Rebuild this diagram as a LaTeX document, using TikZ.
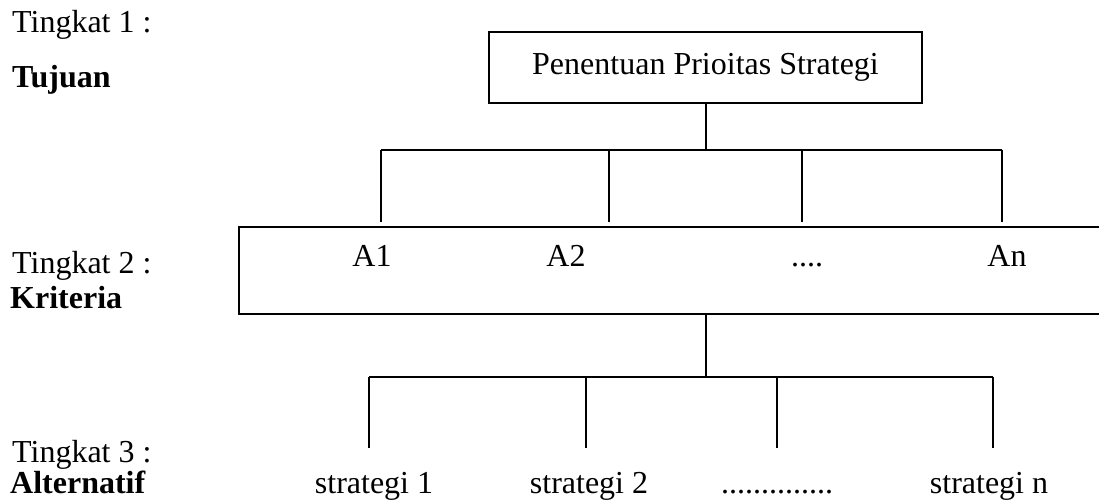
\documentclass[tikz,border=0pt]{standalone}
\usepackage{fontspec}
\setmainfont{Liberation Serif}
\usetikzlibrary{positioning,calc}

\begin{document}
\begin{tikzpicture}[
      x=1pt, y=-1pt,
      font=\fontsize{32}{38}\selectfont,
      box/.style={draw, line width=2pt, inner sep=0pt},
      lvl/.style={anchor=base west, inner sep=0pt},
      lvlb/.style={lvl, font=\fontsize{32}{38}\selectfont\bfseries},
      lbl/.style={anchor=base, inner sep=0pt},
      conn/.style={line width=2pt}
    ]
    \useasboundingbox (0,0) rectangle (1099,500);

    % Level labels
    \node[lvl]  (lv1)  at (12,33)  {Tingkat 1 :};
    \node[lvlb] (lv1b) at (12,88)  {Tujuan};
    \node[lvl]  (lv2)  at (12,273) {Tingkat 2 :};
    \node[lvlb] (lv2b) at (10,308) {Kriteria};
    \node[lvl]  (lv3)  at (12,462) {Tingkat 3 :};
    \node[lvlb] (lv3b) at (10,493) {Alternatif};

    % Goal
    \node[box, minimum width=433pt, minimum height=71pt]
      (goal) at (705.5,67.5) {Penentuan Prioitas Strategi};

    % Criteria
    \node[box, minimum width=865pt, minimum height=87pt]
      (crit) at (671.5,270.5) {};
    \node[lbl] (a1) at (372,266) {A1};
    \node[lbl] (a2) at (566,266) {A2};
    \node[lbl] (adots) at (807,266) {....};
    \node[lbl] (an) at (1007,266) {An};

    % Alternatives
    \node[lbl] (s1) at (374,493) {strategi 1};
    \node[lbl] (s2) at (589,493) {strategi 2};
    \node[lbl] (sdots) at (777,493) {..............};
    \node[lbl] (sn) at (989,493) {strategi n};

    % Goal -> criteria
    \foreach \x [count=\i] in {381,609,802,1002}
      \coordinate (gd\i) at (\x,150);
    \draw[conn] (goal.south) -- (goal.south |- gd1);
    \draw[conn] (gd1) -- (gd4);
    \foreach \i in {1,...,4}
      \draw[conn, shorten >=4pt] (gd\i) -- (gd\i |- crit.north);

    % Criteria -> alternatives
    \foreach \x [count=\i] in {369,586,777,993}
      \coordinate (sd\i) at (\x,377);
    \coordinate (cs) at (crit.south -| goal.south);
    \draw[conn] (cs) -- (cs |- sd1);
    \draw[conn] (sd1) -- (sd4);
    \foreach \i in {1,...,4}
      \draw[conn] (sd\i) -- ++(0,71);
  \end{tikzpicture}
\end{document}
